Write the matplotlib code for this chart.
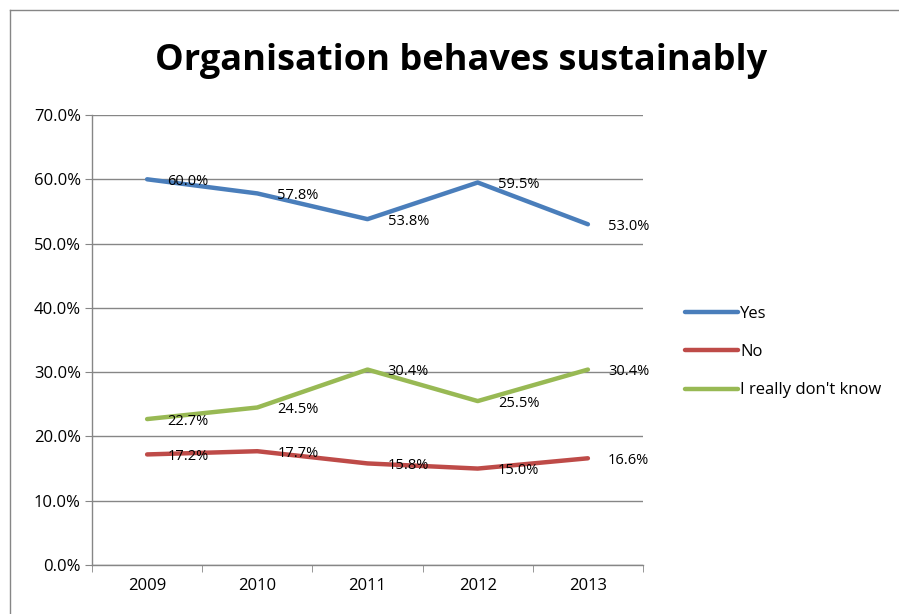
import matplotlib.pyplot as plt
from matplotlib.lines import Line2D

years = ["2009", "2010", "2011", "2012", "2013"]
yes = [60.0, 57.8, 53.8, 59.5, 53.0]
no = [17.2, 17.7, 15.8, 15.0, 16.6]
dont_know = [22.7, 24.5, 30.4, 25.5, 30.4]

series_names = ["Yes", "No", "I really don't know"]
colors = ["#4a7ebb", "#be4b48", "#98b954"]

plt.rcParams['font.family'] = ['Open Sans', 'DejaVu Sans']

fig = plt.figure(figsize=(8.99, 6.14), dpi=100)
ax = fig.add_axes([92/899, 1-565/614, (643-92)/899, (565-115)/614])

x = list(range(len(years)))
for vals, name, c in zip([yes, no, dont_know], series_names, colors):
    ax.plot(x, vals, color=c, lw=3.2, solid_capstyle='round', label=name, zorder=3)
    for xi, v in zip(x, vals):
        ax.annotate(f"{v:.1f}%", (xi, v), xytext=(14.5, -1.5), textcoords='offset points',
                    ha='left', va='center', fontsize=10.5, zorder=4)

ax.set_xlim(-0.5, 4.5)
ax.set_ylim(0, 70)
ax.set_yticks(range(0, 71, 10))
ax.set_yticklabels([f"{v:.1f}%" for v in range(0, 71, 10)], fontsize=12)
ax.set_xticks(x)
ax.set_xticklabels(years, fontsize=12)
ax.set_xticks([i - 0.5 for i in range(6)], minor=True)
ax.tick_params(axis='x', which='major', length=0, pad=9)
ax.tick_params(axis='x', which='minor', length=5, color='#868686')
ax.tick_params(axis='y', length=5, color='#868686', pad=3)
ax.grid(axis='y', color='#868686', lw=1)
ax.set_axisbelow(True)
for s in ['top', 'right']:
    ax.spines[s].set_visible(False)
for s in ['left', 'bottom']:
    ax.spines[s].set_color('#868686')
    ax.spines[s].set_linewidth(1)

handles = [Line2D([], [], color=c, lw=3.2, solid_capstyle='round') for c in colors]
fig.legend(handles, series_names, loc='center left', bbox_to_anchor=(670/899, 1-352/614),
           frameon=False, fontsize=12, handlelength=3.2, handletextpad=0.1,
           labelspacing=1.35)

fig.text(461/899, 1-61/614, "Organisation behaves sustainably", ha='center', va='center',
         fontsize=26, fontweight='bold')

# outer chart border (partly cut off on the right and bottom)
fig.add_artist(Line2D([10/899, 10/899], [0, 1-10/614], color='#868686', lw=1))
fig.add_artist(Line2D([10/899, 1], [1-10/614, 1-10/614], color='#868686', lw=1))

fig.savefig("out.png", dpi=100)
